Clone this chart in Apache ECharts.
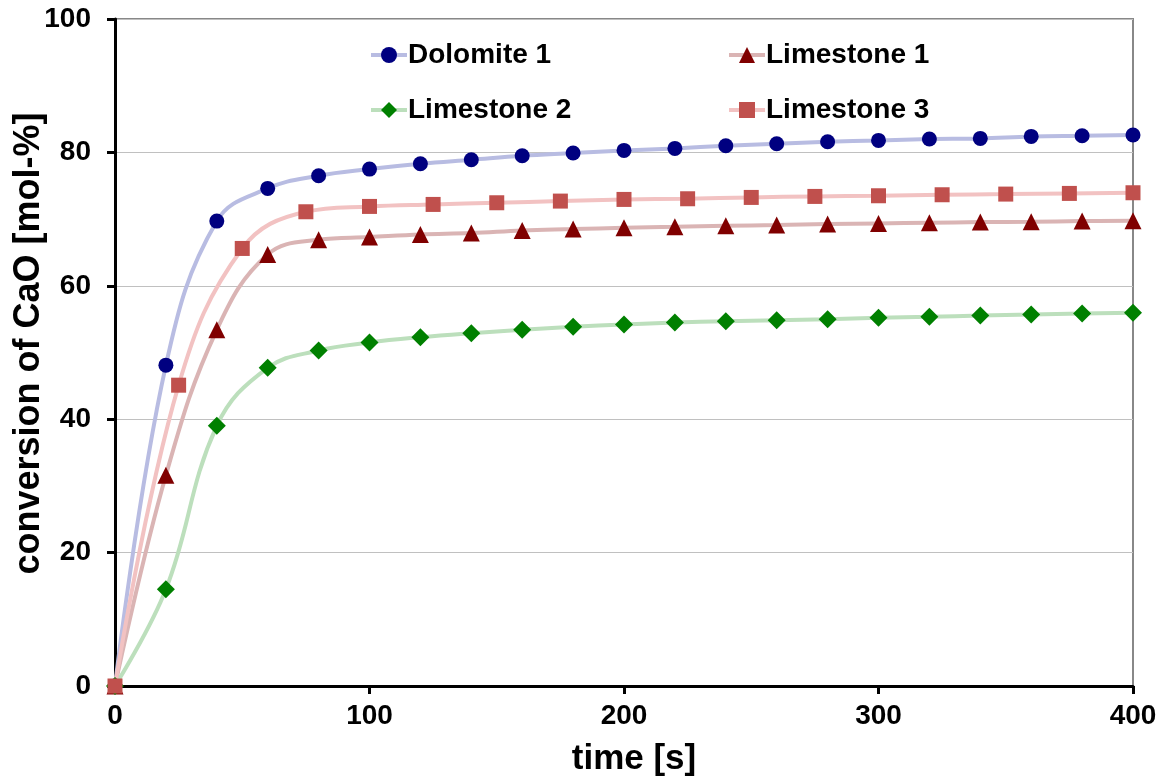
<!DOCTYPE html>
<html>
<head>
<meta charset="utf-8">
<script src="https://cdn.jsdelivr.net/npm/echarts@6/dist/echarts.min.js"></script>
<style>
  html, body { margin: 0; padding: 0; background: #fff; }
  #chart { width: 1165px; height: 781px; }
</style>
</head>
<body>
<div id="chart"></div>
<script>
// time points (s)
const time20 = [0, 20, 40, 60, 80, 100, 120, 140, 160, 180, 200, 220, 240, 260, 280, 300, 320, 340, 360, 380, 400];
const time25 = [0, 25, 50, 75, 100, 125, 150, 175, 200, 225, 250, 275, 300, 325, 350, 375, 400];

// conversion of CaO [mol-%]
const dolomite1 = [0, 48.1, 69.7, 74.6, 76.5, 77.5, 78.3, 78.9, 79.5, 79.9, 80.3, 80.6, 81.0, 81.3, 81.6, 81.8, 82.0, 82.1, 82.4, 82.5, 82.6];
const limestone1 = [0, 31.6, 53.4, 64.7, 66.9, 67.3, 67.7, 67.9, 68.3, 68.5, 68.7, 68.85, 69.0, 69.1, 69.25, 69.35, 69.45, 69.55, 69.6, 69.7, 69.75];
const limestone2 = [0, 14.5, 39.0, 47.7, 50.3, 51.5, 52.3, 52.9, 53.4, 53.85, 54.2, 54.5, 54.7, 54.85, 55.0, 55.2, 55.35, 55.55, 55.7, 55.85, 55.95];
const limestone3 = [0, 45.1, 65.6, 71.1, 71.9, 72.2, 72.45, 72.7, 72.95, 73.05, 73.25, 73.4, 73.5, 73.65, 73.75, 73.85, 73.95];

const xTicks = [0, 100, 200, 300, 400];
const yTicks = [0, 20, 40, 60, 80, 100];

const FONT = 'Arial, "Liberation Sans", sans-serif';

function pairs(xs, ys) {
  return xs.map((x, i) => [x, ys[i]]);
}

function makeSeries(name, xs, ys, symbol, size, markColor, lineColor) {
  return {
    name: name,
    type: 'line',
    smooth: 0.4,
    data: pairs(xs, ys),
    symbol: symbol,
    symbolSize: size,
    showAllSymbol: true,
    itemStyle: { color: markColor },
    lineStyle: { color: lineColor, width: 4 },
    emphasis: { disabled: true }
  };
}

function legendAt(name, left, top) {
  return {
    data: [name],
    left: left,
    top: top,
    itemWidth: 36,
    itemHeight: 20,
    selectedMode: false,
    lineStyle: { width: 4 },
    textStyle: { fontFamily: FONT, fontSize: 28, fontWeight: 'bold', color: '#000', padding: [0, 0, 0, -4] }
  };
}

const chart = echarts.init(document.getElementById('chart'));

chart.setOption({
  animation: false,
  backgroundColor: '#fff',
  grid: {
    left: 115, right: 32, top: 19, bottom: 95,
    outerBoundsMode: 'none',
    containLabel: false,
    show: true, borderColor: '#888', borderWidth: 2
  },
  legend: [
    legendAt('Dolomite 1', 364, 36),
    legendAt('Limestone 1', 722, 36),
    legendAt('Limestone 2', 364, 91),
    legendAt('Limestone 3', 722, 91)
  ],
  xAxis: {
    type: 'value',
    min: xTicks[0],
    max: xTicks[xTicks.length - 1],
    interval: 100,
    name: 'time [s]',
    nameLocation: 'middle',
    nameGap: 56,
    nameMoveOverlap: false,
    nameTextStyle: { fontFamily: FONT, fontSize: 35, fontWeight: 'bold', color: '#000', padding: [0, 0, 0, 20] },
    axisLine: { lineStyle: { color: '#000', width: 3 } },
    axisTick: { show: true, length: 8, lineStyle: { color: '#000', width: 3 } },
    axisLabel: { fontFamily: FONT, fontSize: 28, fontWeight: 'bold', color: '#000', margin: 16 },
    splitLine: { show: false }
  },
  yAxis: {
    type: 'value',
    min: yTicks[0],
    max: yTicks[yTicks.length - 1],
    interval: 20,
    name: 'conversion of CaO [mol-%]',
    nameLocation: 'middle',
    nameGap: 68,
    nameMoveOverlap: false,
    nameTextStyle: { fontFamily: FONT, fontSize: 36, fontWeight: 'bold', color: '#000', padding: [0, 0, 0, 18] },
    axisLine: { show: true, lineStyle: { color: '#000', width: 3 } },
    axisTick: { show: true, length: 8, lineStyle: { color: '#000', width: 3 } },
    axisLabel: { fontFamily: FONT, fontSize: 28, fontWeight: 'bold', color: '#000', margin: 24 },
    splitLine: { show: true, lineStyle: { color: '#c0c0c0', width: 1 } }
  },
  series: [
    makeSeries('Dolomite 1', time20, dolomite1, 'circle', 15, '#000080', '#b8bce2'),
    makeSeries('Limestone 1', time20, limestone1, 'triangle', 17, '#800000', '#dab4b4'),
    makeSeries('Limestone 2', time20, limestone2, 'diamond', 18, '#008000', '#bcdfbc'),
    makeSeries('Limestone 3', time25, limestone3, 'rect', 15, '#c0504d', '#f2c2c2')
  ]
});
</script>
</body>
</html>
